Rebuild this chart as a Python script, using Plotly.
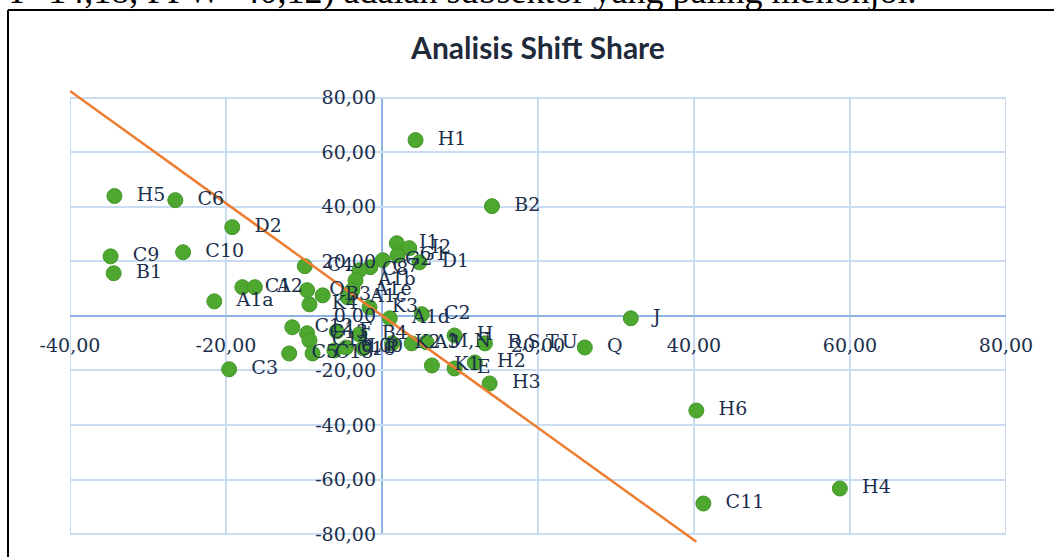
import plotly.graph_objects as go

# ---------------- data ----------------
labels = ["H1", "B2", "H5", "C6", "D2", "C9", "B1", "C10", "A1a", "C1", "A2", "C3",
          "J", "Q", "H6", "C11", "H4", "H3", "H2", "E", "K1", "H", "R,S,T,U", "M,N",
          "A3", "K2", "I1", "I2", "G1", "D1", "G2", "C7", "C8", "C4", "A1b", "A1e",
          "A1c", "O", "B3", "K4", "K3", "A1d", "C2", "B4", "F", "C12", "C13", "C14",
          "C5", "C15", "C16", "L", "P"]
x_vals = [4.3, 14.1, -34.3, -26.5, -19.2, -34.8, -34.4, -25.5, -21.5, -17.9, -16.3, -19.6,
          31.9, 26.0, 40.3, 41.2, 58.7, 13.8, 11.9, 9.3, 6.4, 9.3, 13.2, 5.7,
          3.8, 1.3, 1.9, 3.5, 2.0, 4.8, 0.1, -1.5, -2.9, -9.9, -3.4, -3.8,
          -4.4, -9.6, -7.6, -9.3, -1.6, 1.0, 5.1, -2.9, -5.8, -11.5, -9.6, -9.3,
          -11.9, -8.9, -6.1, -4.6, -2.4]
y_vals = [64.4, 40.2, 43.9, 42.4, 32.5, 21.8, 15.6, 23.3, 5.3, 10.5, 10.5, -19.6,
          -0.9, -11.6, -34.7, -68.8, -63.3, -24.8, -17.1, -19.3, -18.2, -7.2, -10.1, -9.7,
          -10.1, -10.1, 26.6, 24.8, 22.2, 19.6, 20.4, 17.8, 16.7, 18.2, 13.0, 9.4,
          6.8, 9.4, 7.5, 4.2, 3.1, -0.9, 0.6, -6.8, -5.7, -4.2, -6.4, -9.0,
          -13.8, -13.8, -12.7, -11.6, -11.9]

line_x = [-40.0, 40.3]
line_y = [82.4, -82.8]

x_ticks = [-40, -20, 0, 20, 40, 60, 80]
x_ticktext = ["-40,00", "-20,00", "0,00", "20,00", "40,00", "60,00", "80,00"]
y_ticks = [-80, -60, -40, -20, 0, 20, 40, 60, 80]
y_ticktext = ["-80,00", "-60,00", "-40,00", "-20,00", "0,00", "20,00", "40,00", "60,00", "80,00"]

title_text = "Analisis Shift Share"
page_text = "T=14,18, PPW=40,12) adalah subsektor yang paling menonjol."

# ---------------- layout constants ----------------
W, H = 1054, 557
ML, MR, MT, MB = 70, 48, 88, 12
X_RANGE = [-40, 80]
Y_RANGE = [-84, 83.5]
PLOT_W = W - ML - MR
PLOT_H = H - MT - MB


def px_x(px):
    return (px - ML) / PLOT_W


def px_y(py):
    return (H - MB - py) / PLOT_H


GRID = "#c9dcf2"
AXIS = "#8db4e2"
TXT = "#1b2f4d"
GREEN = "#4ea72e"
ORANGE = "#ed7d31"
SERIF = "DejaVu Serif"

fig = go.Figure()

fig.add_trace(go.Scatter(
    x=x_vals, y=y_vals, mode="markers",
    marker=dict(size=15, color=GREEN, line=dict(width=1, color="#43962a")),
    hoverinfo="skip", showlegend=False, cliponaxis=False))

fig.add_trace(go.Scatter(
    x=line_x, y=line_y, mode="lines",
    line=dict(color=ORANGE, width=2.5),
    hoverinfo="skip", showlegend=False))

fig.add_trace(go.Scatter(
    x=x_vals, y=y_vals, mode="markers+text", text=labels,
    textposition="middle right",
    textfont=dict(family=SERIF, size=19, color=TXT),
    marker=dict(size=34, color="rgba(0,0,0,0)"),
    hoverinfo="skip", showlegend=False, cliponaxis=False))

shapes = []
for v in x_ticks:
    shapes.append(dict(type="line", xref="x", yref="y", x0=v, x1=v,
                       y0=y_ticks[0], y1=y_ticks[-1],
                       line=dict(color=AXIS if v == 0 else GRID, width=2),
                       layer="below"))
# document frame
shapes.append(dict(type="line", xref="paper", yref="paper",
                   x0=px_x(8), x1=px_x(8), y0=px_y(10), y1=px_y(H + 5),
                   line=dict(color="black", width=2), layer="above"))
shapes.append(dict(type="line", xref="paper", yref="paper",
                   x0=px_x(8), x1=px_x(W + 5), y0=px_y(10), y1=px_y(10),
                   line=dict(color="black", width=2), layer="above"))

x0_frac = (0 - Y_RANGE[0]) / (Y_RANGE[1] - Y_RANGE[0])
y0_frac = (0 - X_RANGE[0]) / (X_RANGE[1] - X_RANGE[0])

page_font = dict(family="Liberation Serif", size=36, color="black")

fig.update_layout(
    width=W, height=H, autosize=False,
    margin=dict(l=ML, r=MR, t=MT, b=MB, pad=0),
    paper_bgcolor="white", plot_bgcolor="white",
    title=dict(text="<b>" + title_text + "</b>", x=0.5, xref="paper",
               y=1 - 48 / H, yref="container", xanchor="center", yanchor="middle",
               font=dict(family="Lato", size=30, color="#1f2a3a")),
    xaxis=dict(range=X_RANGE, showgrid=False, zeroline=False, showline=False,
               tickvals=x_ticks, ticktext=x_ticktext, ticks="",
               anchor="free", position=x0_frac, ticklabelstandoff=16,
               tickfont=dict(family=SERIF, size=19, color=TXT), automargin=False),
    yaxis=dict(range=Y_RANGE, showgrid=True, gridcolor=GRID, gridwidth=2,
               zeroline=True, zerolinecolor=AXIS, zerolinewidth=2, showline=False,
               tickvals=y_ticks, ticktext=y_ticktext, ticks="",
               anchor="free", position=y0_frac, ticklabelstandoff=6,
               tickfont=dict(family=SERIF, size=19, color=TXT), automargin=False),
    shapes=shapes,
    annotations=[
        dict(text=page_text, xref="paper", yref="paper",
             x=px_x(918), y=px_y(13), xanchor="right", yanchor="bottom",
             showarrow=False, font=page_font),
    ],
)

fig.write_html("out.html", config={"displayModeBar": False},
               post_script="document.body.style.margin='0px';")
